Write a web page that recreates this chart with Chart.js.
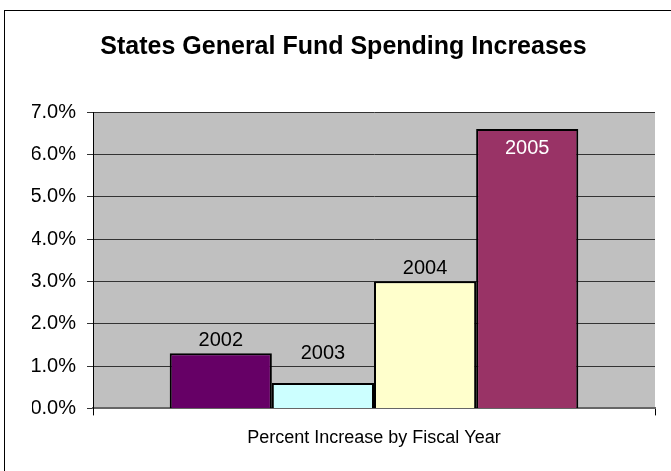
<!DOCTYPE html>
<html>
<head>
<meta charset="utf-8">
<script src="https://cdn.jsdelivr.net/npm/chart.js@4"></script>
<style>
  body { margin: 0; background: #fff; }
  .frame { position: absolute; left: 4px; top: 10px; width: 700px; height: 500px;
           border-left: 1px solid #000; border-top: 1px solid #000; }
  .wrap { position: absolute; left: 0; top: 0; width: 671px; height: 471px; }
</style>
</head>
<body>
<div class="frame"></div>
<div class="wrap"><canvas id="chart" width="671" height="471"></canvas></div>
<script>
const chartTitle = 'States General Fund Spending Increases';
const axisTitle = 'Percent Increase by Fiscal Year';
const years = ['2002', '2003', '2004', '2005'];
const increases = [1.3, 0.6, 3.0, 6.6];
const barColors = ['#660066', '#CCFFFF', '#FFFFCC', '#993366'];
const yTicks = [0, 1, 2, 3, 4, 5, 6, 7];

const font = "'Liberation Sans', Arial, sans-serif";
// the 2003 label sits a bit higher in the original
const labelLift = [0, 17, 0, 0];

// gray plot background
const plotBg = {
    id: 'plotBg',
    beforeDraw(chart) {
        const a = chart.chartArea;
        const ctx = chart.ctx;
        ctx.save();
        ctx.fillStyle = '#C0C0C0';
        ctx.fillRect(a.left, a.top, a.right - a.left, a.bottom - a.top);
        ctx.restore();
    }
};

// year labels on the bars
const yearLabels = {
    id: 'yearLabels',
    afterDatasetsDraw(chart) {
        const ctx = chart.ctx;
        ctx.save();
        ctx.font = '20px ' + font;
        ctx.textAlign = 'center';
        chart.data.datasets.forEach((ds, i) => {
            const bar = chart.getDatasetMeta(i).data[0];
            if (bar.y - chart.chartArea.top < 30) {
                ctx.fillStyle = '#fff';
                ctx.textBaseline = 'top';
                ctx.fillText(ds.label, bar.x, bar.y + 10);
            } else {
                ctx.fillStyle = '#000';
                ctx.textBaseline = 'bottom';
                ctx.fillText(ds.label, bar.x, bar.y - 3 - labelLift[i]);
            }
        });
        ctx.restore();
    }
};

const datasets = years.map((y, i) => ({
    label: y,
    data: [increases[i]],
    backgroundColor: barColors[i],
    borderColor: '#000',
    borderWidth: 2,
    borderSkipped: 'bottom',
    categoryPercentage: 0.727,
    barPercentage: 1.0
}));

new Chart(document.getElementById('chart'), {
    type: 'bar',
    data: { labels: [''], datasets: datasets },
    plugins: [plotBg, yearLabels],
    options: {
        responsive: false,
        animation: false,
        layout: { padding: { left: 32, right: 16, top: 0, bottom: 0 } },
        plugins: {
            legend: { display: false },
            tooltip: { enabled: false },
            title: {
                display: true,
                text: chartTitle,
                color: '#000',
                font: { family: font, size: 25, weight: 'bold' },
                padding: { top: 32, bottom: 50 }
            }
        },
        scales: {
            x: {
                grid: { drawOnChartArea: false, drawTicks: true, tickLength: 7, color: '#000' },
                border: { color: '#666', width: 2 },
                ticks: { display: false },
                title: {
                    display: true,
                    text: axisTitle,
                    color: '#000',
                    font: { family: font, size: 18 },
                    padding: { top: 12, bottom: 22 }
                }
            },
            y: {
                min: 0,
                max: 7,
                afterBuildTicks(scale) {
                    scale.ticks = yTicks.map(v => ({ value: v }));
                },
                afterFit(scale) { scale.width = 61; },
                grid: { color: '#333', tickLength: 6, drawTicks: true },
                border: { color: '#000', width: 1 },
                ticks: {
                    color: '#000',
                    padding: 11,
                    font: { family: font, size: 20 },
                    callback: v => v.toFixed(1) + '%'
                }
            }
        }
    }
});
</script>
</body>
</html>
